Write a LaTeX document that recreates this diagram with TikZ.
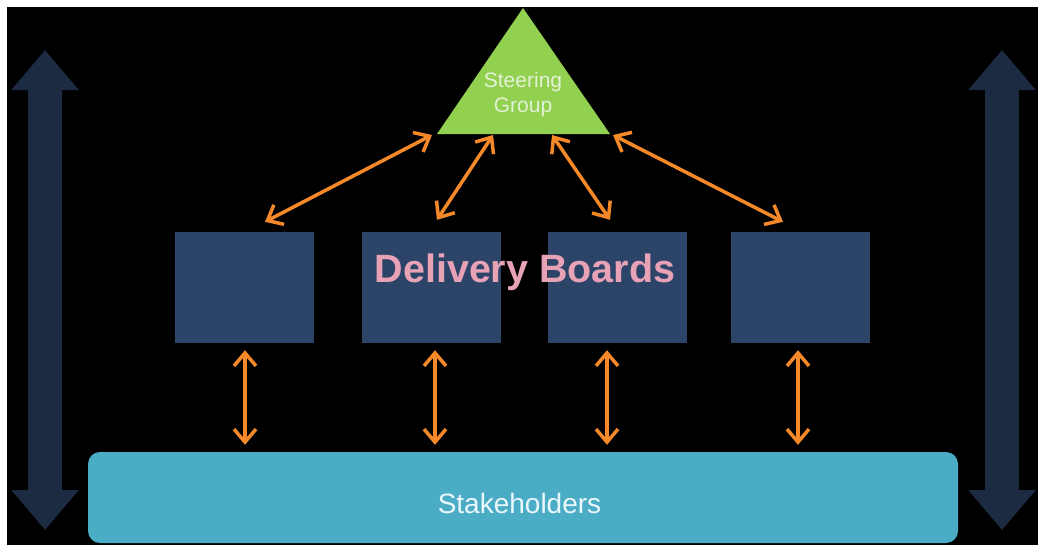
\documentclass[tikz,border=0pt]{standalone}
\usepackage{fontspec}
\setmainfont{Liberation Sans}
\usepackage{xcolor}
\usetikzlibrary{arrows.meta,calc,positioning}

\definecolor{sggreen}{HTML}{92D050}
\definecolor{sgtext}{HTML}{E4F1D6}
\definecolor{boardblue}{HTML}{2B4468}
\definecolor{boardpink}{HTML}{E8A2B6}
\definecolor{stakeblue}{HTML}{4BACC6}
\definecolor{staketext}{HTML}{EAF8FC}
\definecolor{linkorange}{HTML}{F5892A}
\definecolor{navyshade}{HTML}{1C2B42}

\tikzset{
  board/.style={fill=boardblue,minimum width=139pt,minimum height=111pt,inner sep=0pt},
  link/.style={draw=linkorange,line width=3.5pt,
    {Straight Barb[length=13pt,width=22pt]}-{Straight Barb[length=13pt,width=22pt]}},
  bigarrow/.style={draw=navyshade,line width=34pt,
    {Triangle[width=65pt,length=40pt]}-{Triangle[width=65pt,length=40pt]}}
}

\begin{document}
\begin{tikzpicture}[x=1pt,y=-1pt]
\fill[white] (0,0) rectangle (1038,545);
\fill[black] (7,7) rectangle (1038,545);
\foreach \x in {45,1002} {\draw[bigarrow] (\x,50)--(\x,530);}
\fill[sggreen] (523,8)--(610,134)--(437,134)--cycle;
\node[align=center,text=sgtext,font=\fontsize{21}{25}\selectfont,anchor=base] (sg) at (523,112) {Steering\\Group};
\foreach \n/\x in {1/244.5,2/431,3/617.5,4/800} {\node[board] (b\n) at (\x,287.5) {};}
\node[anchor=base,text=boardpink,font=\bfseries\fontsize{39.5}{40}\selectfont] (db) at (525,282) {Delivery Boards};
\node[fill=stakeblue,rounded corners=12pt,minimum width=870pt,minimum height=91pt,inner sep=0pt] (sh) at (523,497.5) {};
\node[anchor=base,text=staketext,font=\fontsize{28}{30}\selectfont] (shlabel) at (519.5,513) {Stakeholders};
\foreach \n/\t in {1/432,2/493,3/552,4/613} {\coordinate (sg\n) at (\t,135);}
\foreach \n/\dx/\dy in {1/20.5/-10,2/6/-12,3/-7.5/-12,4/-17/-10} {\draw[link] (sg\n)--($(b\n.north)+(\dx,\dy)$);}
\foreach \n/\dx in {1/0.5,2/4,3/-10.5,4/-2} {\draw[link] ($(b\n.south)+(\dx,7)$)--($(b\n.south |- sh.north)+(\dx,-7)$);}
\end{tikzpicture}
\end{document}
